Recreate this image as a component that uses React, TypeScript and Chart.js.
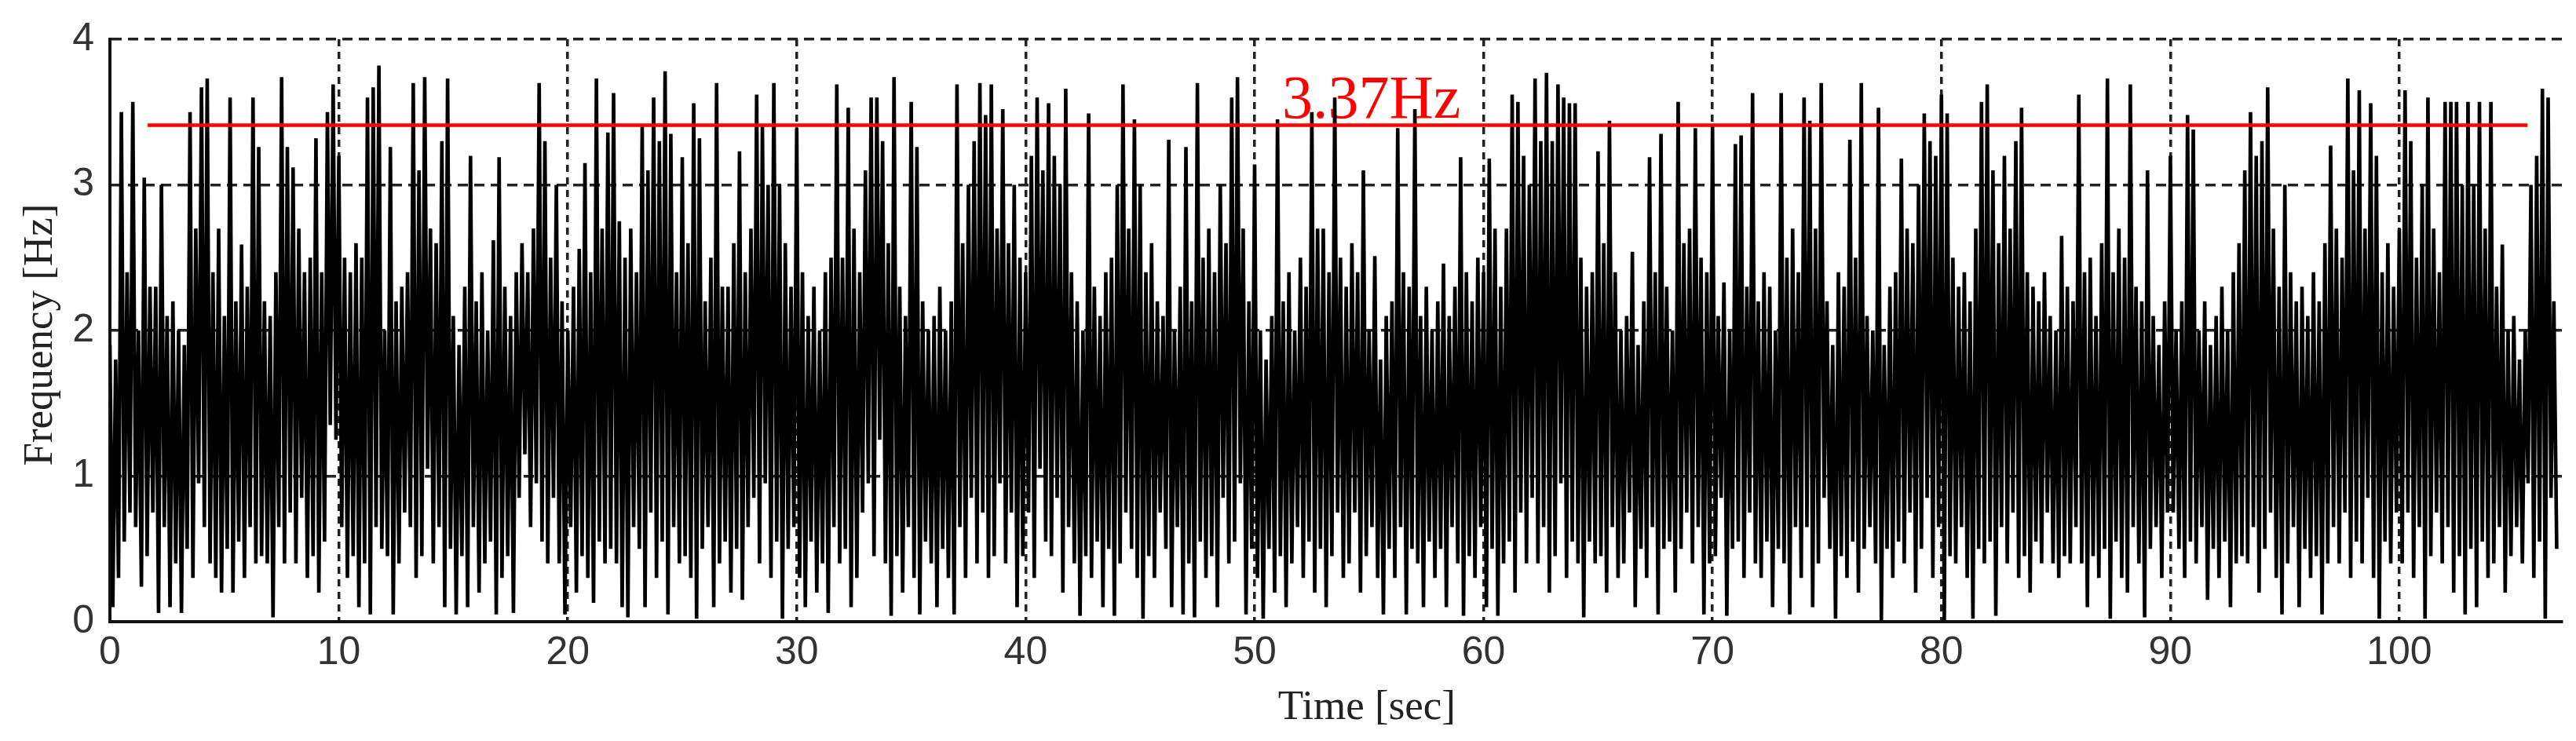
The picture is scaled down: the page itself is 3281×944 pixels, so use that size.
import React, { useEffect, useRef } from 'react';
import { Chart, registerables } from 'chart.js';

Chart.register(...registerables);

// sampling step of the envelope columns (seconds)
const TIME_STEP = 0.25;

// upper turning points of the signal, 4 per second (0 s .. 107 s)
const HI = [
  1.9, 1.8, 3.5, 2.4, 3.57, 2.0, 3.05, 2.3, 2.3, 3.0, 2.1, 2.2, 2.0, 1.9, 3.5, 2.7, 3.67, 3.73, 2.4, 2.7,
  2.1, 3.6, 2.2, 2.59, 2.3, 3.6, 3.26, 2.2, 2.1, 2.4, 3.74, 3.26, 3.12, 2.7, 2.4, 2.5, 3.32, 2.4, 3.5, 3.69,
  3.2, 2.5, 2.4, 2.6, 2.5, 3.6, 3.67, 3.82, 2.0, 3.26, 2.2, 2.3, 2.4, 3.7, 3.1, 3.74, 2.7, 2.6, 3.3, 3.73,
  2.1, 1.9, 2.3, 3.2, 2.2, 2.4, 2.0, 2.62, 3.19, 2.3, 2.1, 2.4, 2.6, 2.4, 2.7, 3.7, 3.3, 2.5, 3.0, 2.2,
  2.0, 2.3, 2.56, 3.15, 2.4, 3.73, 2.7, 3.36, 3.63, 2.75, 2.5, 2.7, 2.4, 3.4, 3.1, 3.6, 3.3, 3.78, 3.35, 2.4,
  3.19, 2.6, 3.56, 3.32, 2.2, 2.5, 3.7, 2.3, 2.3, 2.6, 3.23, 2.4, 2.7, 3.62, 3.4, 3.0, 3.7, 3.0, 2.6, 2.3,
  3.39, 2.4, 2.1, 2.3, 2.0, 2.4, 2.5, 3.69, 2.5, 3.53, 2.7, 2.4, 3.1, 3.6, 3.6, 3.3, 2.6, 3.74, 2.3, 2.1,
  3.57, 3.26, 2.2, 2.0, 2.1, 2.3, 2.0, 2.2, 3.69, 2.6, 3.0, 3.3, 3.7, 3.48, 3.69, 2.7, 3.52, 2.6, 3.0, 2.5,
  2.4, 3.2, 3.6, 3.1, 3.56, 3.2, 3.0, 3.66, 2.4, 2.2, 2.0, 3.49, 2.3, 2.1, 2.4, 2.5, 3.0, 3.69, 2.7, 3.45,
  3.0, 2.4, 2.6, 2.2, 2.1, 3.31, 2.0, 2.3, 3.26, 2.2, 3.7, 2.5, 2.7, 2.4, 3.0, 2.6, 3.6, 3.74, 2.7, 2.2,
  3.14, 2.0, 1.8, 2.1, 3.45, 2.2, 2.4, 2.0, 2.5, 2.3, 3.5, 2.7, 2.7, 2.4, 3.6, 2.5, 2.3, 2.6, 2.4, 3.1,
  2.0, 2.51, 1.8, 2.1, 2.2, 3.39, 2.4, 2.3, 3.52, 2.1, 2.3, 2.0, 2.2, 2.46, 2.1, 2.3, 3.19, 2.4, 2.2, 2.5,
  2.4, 3.18, 2.7, 2.3, 2.7, 3.62, 3.57, 3.2, 3.0, 3.73, 3.3, 3.77, 3.3, 3.69, 3.6, 3.56, 3.56, 2.5, 2.3, 2.4,
  3.23, 2.6, 3.44, 2.4, 2.0, 2.1, 2.54, 1.9, 2.2, 3.19, 2.4, 3.35, 2.3, 2.0, 3.57, 2.6, 2.7, 3.39, 2.5, 2.4,
  3.41, 2.1, 2.33, 2.0, 3.28, 3.34, 2.3, 3.63, 2.2, 2.4, 2.3, 2.0, 3.63, 2.5, 2.7, 2.4, 3.6, 3.44, 2.7, 3.7,
  2.2, 1.9, 2.4, 2.3, 3.31, 2.5, 3.7, 2.1, 2.0, 3.53, 1.9, 2.3, 2.4, 3.18, 2.7, 2.6, 3.0, 3.49, 3.3, 3.2,
  3.62, 3.49, 2.5, 2.3, 2.4, 2.2, 2.7, 3.57, 3.69, 3.1, 2.6, 3.2, 2.7, 3.3, 3.53, 2.4, 2.3, 2.2, 2.4, 2.1,
  2.0, 2.65, 2.3, 2.2, 3.62, 2.4, 2.5, 2.1, 2.6, 3.73, 2.4, 2.7, 2.5, 3.69, 2.3, 2.2, 3.1, 2.1, 1.9, 2.2,
  3.2, 2.0, 2.2, 3.48, 3.38, 2.0, 2.2, 1.9, 2.1, 2.3, 2.0, 2.4, 2.6, 3.1, 3.5, 3.2, 3.3, 3.67, 2.7, 2.3,
  3.0, 2.4, 2.2, 2.3, 2.1, 2.4, 2.2, 2.6, 3.27, 2.7, 2.5, 3.73, 3.1, 3.65, 2.7, 3.56, 3.2, 2.4, 2.6, 2.3,
  2.7, 3.65, 3.3, 2.5, 3.0, 3.6, 2.7, 2.4, 3.57, 3.57, 3.57, 3.0, 3.57, 3.0, 3.57, 2.7, 3.57, 2.3, 2.59, 2.0,
  2.1, 1.8, 2.0, 3.0, 3.2, 3.66, 3.6, 2.2,
];

// lower turning points of the signal, 4 per second (0 s .. 107 s)
const LO = [
  0.1, 0.3, 0.55, 0.75, 0.65, 0.24, 0.45, 0.75, 0.06, 0.65, 0.1, 0.4, 0.06, 0.5, 0.3, 0.95, 0.65, 0.4, 0.3, 0.2,
  0.5, 0.2, 0.55, 0.3, 0.65, 0.4, 0.45, 0.4, 0.03, 0.65, 0.4, 0.75, 0.4, 0.85, 0.3, 0.45, 0.2, 0.55, 1.35, 1.25,
  0.65, 0.3, 0.45, 0.1, 0.4, 0.05, 0.65, 0.5, 0.45, 0.05, 0.4, 0.75, 0.65, 0.3, 0.45, 1.05, 0.4, 0.65, 0.1, 0.5,
  0.05, 0.45, 0.1, 0.65, 0.2, 0.4, 0.55, 0.05, 0.3, 0.45, 0.06, 0.85, 1.15, 0.65, 0.95, 0.55, 0.4, 0.85, 0.4, 0.05,
  0.65, 0.2, 0.45, 0.3, 0.13, 0.55, 0.4, 0.5, 0.4, 0.1, 0.03, 0.65, 0.5, 0.1, 0.75, 0.3, 0.55, 0.05, 0.65, 0.4,
  0.45, 0.3, 0.02, 0.5, 0.65, 0.1, 0.4, 0.55, 0.2, 0.5, 0.15, 0.65, 0.85, 0.4, 0.95, 0.3, 0.55, 0.02, 0.5, 0.65,
  0.3, 0.1, 0.55, 0.2, 0.4, 0.06, 0.65, 0.4, 0.5, 0.1, 0.3, 0.75, 0.95, 0.45, 1.25, 0.4, 0.04, 0.45, 0.2, 0.65,
  0.3, 0.05, 0.55, 0.4, 0.1, 0.5, 0.3, 0.05, 0.65, 0.3, 0.85, 0.4, 0.75, 0.3, 0.45, 0.95, 0.4, 0.75, 0.1, 0.45,
  0.75, 0.3, 1.05, 0.55, 0.45, 0.85, 0.2, 0.65, 0.4, 0.04, 0.45, 0.3, 0.55, 0.1, 0.5, 0.04, 0.4, 0.75, 0.5, 0.3,
  0.02, 0.45, 0.3, 0.75, 0.5, 0.1, 0.65, 0.05, 0.4, 0.03, 0.55, 0.3, 0.45, 0.1, 0.85, 0.4, 0.55, 0.95, 0.05, 0.5,
  0.3, 0.02, 0.5, 0.2, 0.45, 0.1, 0.4, 0.65, 0.3, 0.55, 0.2, 0.5, 0.1, 0.45, 0.75, 0.3, 0.4, 0.75, 0.2, 0.45,
  0.65, 0.3, 0.05, 0.5, 0.3, 0.65, 0.05, 0.5, 0.4, 0.1, 0.55, 0.3, 0.5, 0.1, 0.65, 0.4, 0.04, 0.45, 0.3, 0.65,
  0.1, 0.5, 0.04, 0.4, 0.55, 0.2, 0.75, 0.4, 0.85, 0.4, 0.65, 0.2, 0.45, 0.95, 0.3, 0.55, 0.4, 0.03, 0.55, 0.4,
  0.45, 0.2, 0.65, 0.3, 0.4, 0.75, 0.1, 0.5, 0.3, 0.65, 0.05, 0.5, 0.55, 0.2, 0.5, 0.75, 0.4, 0.65, 0.05, 0.4,
  0.45, 0.85, 0.04, 0.5, 0.55, 0.3, 0.75, 0.4, 0.3, 0.55, 0.1, 0.5, 0.4, 0.05, 0.65, 0.3, 0.65, 0.1, 0.4, 0.85,
  0.5, 0.02, 0.45, 0.3, 0.55, 0.2, 0.5, 0.65, 0.4, 0.01, 0.5, 0.3, 0.55, 0.4, 0.75, 0.2, 0.5, 0.85, 0.3, 0.65,
  0.01, 0.45, 0.4, 0.65, 0.3, 0.02, 0.5, 0.4, 0.55, 0.04, 0.65, 0.4, 0.75, 0.3, 0.45, 0.2, 0.55, 0.4, 0.75, 0.4,
  0.3, 0.45, 0.4, 0.65, 0.4, 0.1, 0.45, 0.3, 0.5, 0.02, 0.55, 0.3, 0.2, 0.65, 0.4, 0.03, 0.5, 0.65, 0.3, 0.75,
  0.75, 0.5, 0.3, 0.55, 0.4, 0.65, 0.15, 0.5, 0.3, 0.55, 0.1, 0.4, 0.45, 0.4, 0.65, 0.2, 0.5, 0.75, 0.3, 0.05,
  0.4, 0.65, 0.1, 0.5, 0.3, 0.45, 0.05, 0.4, 0.65, 0.4, 0.75, 0.3, 0.55, 0.4, 0.85, 0.3, 0.02, 0.55, 0.4, 0.75,
  0.4, 0.75, 0.3, 0.65, 0.02, 0.45, 0.75, 0.4, 0.65, 0.2, 0.45, 0.05, 0.5, 0.1, 0.55, 0.3, 0.4, 0.65, 0.2, 0.45,
  0.65, 0.4, 0.95, 0.3, 0.55, 0.02, 0.85, 0.5,
];

const X_TICKS = [0, 10, 20, 30, 40, 50, 60, 70, 80, 90, 100];
const Y_TICKS = [0, 1, 2, 3, 4];
const X_MAX = 107.1;
const THRESHOLD_VALUE = 3.41;
const THRESHOLD_START = 1.65;
const THRESHOLD_END = 105.6;
const THRESHOLD_LABEL = '3.37Hz';
const X_TITLE = 'Time [sec]';
const Y_TITLE = 'Frequency [Hz]';

function buildSeries() {
  const pts: { x: number; y: number }[] = [];
  for (let i = 0; i < HI.length; i++) {
    pts.push({ x: i * TIME_STEP, y: HI[i] });
    if (i < LO.length) pts.push({ x: i * TIME_STEP + TIME_STEP / 2, y: LO[i] });
  }
  return pts;
}

const textPlugin = {
  id: 'freqTexts',
  beforeDatasetsDraw(chart: any) {
    const { ctx, scales } = chart;
    ctx.save();
    ctx.fillStyle = '#ff0000';
    ctx.font = '78px "Liberation Serif", "Times New Roman", serif';
    ctx.textAlign = 'left';
    ctx.textBaseline = 'alphabetic';
    ctx.fillText(THRESHOLD_LABEL, scales.x.getPixelForValue(51.2), scales.y.getPixelForValue(3.46));
    ctx.restore();
  },
  afterDraw(chart: any) {
    const { ctx, scales } = chart;
    ctx.save();
    ctx.fillStyle = '#222';
    ctx.font = '53px "Liberation Serif", "Times New Roman", serif';
    ctx.textAlign = 'center';
    ctx.textBaseline = 'alphabetic';
    ctx.fillText(X_TITLE, scales.x.getPixelForValue(54.9), 916);
    ctx.translate(52, scales.y.getPixelForValue(1.97));
    ctx.rotate(-Math.PI / 2);
    ctx.textBaseline = 'middle';
    ctx.fillText(Y_TITLE, 0, 0);
    ctx.restore();
  },
};

export default function App() {
  const ref = useRef<HTMLCanvasElement | null>(null);
  useEffect(() => {
    if (!ref.current) return;
    const tickFont = { family: '"Liberation Sans Narrow", "Liberation Sans", Arial, sans-serif', size: 50 };
    const chart = new Chart(ref.current, {
      type: 'line',
      data: {
        datasets: [
          {
            label: 'threshold',
            data: [
              { x: THRESHOLD_START, y: THRESHOLD_VALUE },
              { x: THRESHOLD_END, y: THRESHOLD_VALUE },
            ],
            borderColor: '#ff0000',
            borderWidth: 4.5,
            pointRadius: 0,
          },
          {
            label: 'frequency',
            data: buildSeries(),
            borderColor: '#000000',
            borderWidth: 4.6,
            pointRadius: 0,
            tension: 0,
          },
        ],
      },
      options: {
        responsive: false,
        animation: false,
        devicePixelRatio: 1,
        layout: { padding: { left: 0, top: 42, right: 18, bottom: 0 } },
        plugins: { legend: { display: false }, tooltip: { enabled: false } },
        scales: {
          x: {
            type: 'linear',
            min: 0,
            max: X_MAX,
            afterFit: (s: any) => { s.height = 152; },
            afterBuildTicks: (s: any) => { s.ticks = X_TICKS.map((v) => ({ value: v })); },
            ticks: { font: tickFont, color: '#333', padding: 10, includeBounds: false, maxRotation: 0 },
            grid: { color: '#222', lineWidth: 3.5, drawTicks: false },
            border: { display: true, color: '#111', width: 4, dash: [9, 7] },
          },
          y: {
            type: 'linear',
            min: 0,
            max: 4,
            afterFit: (s: any) => { s.width = 140; },
            afterBuildTicks: (s: any) => { s.ticks = Y_TICKS.map((v) => ({ value: v })); },
            ticks: { font: tickFont, color: '#333', padding: 20 },
            grid: { color: '#222', lineWidth: 3.5, drawTicks: false },
            border: { display: true, color: '#111', width: 4, dash: [13, 8] },
          },
        },
      },
      plugins: [textPlugin],
    });
    return () => chart.destroy();
  }, []);
  return (
    <div style={{ position: 'absolute', left: 0, top: 0, width: 3281, height: 944, background: '#fff' }}>
      <canvas ref={ref} width={3281} height={944} style={{ width: 3281, height: 944 }} />
    </div>
  );
}
